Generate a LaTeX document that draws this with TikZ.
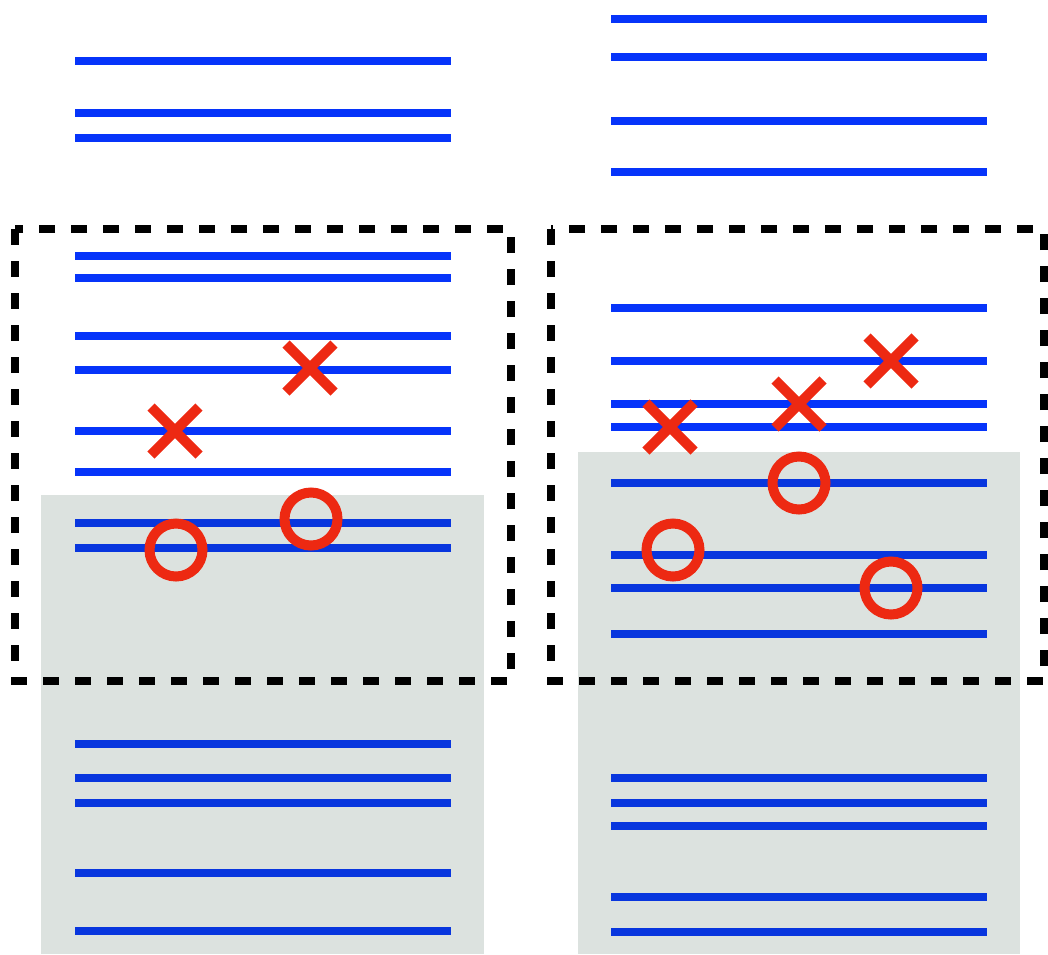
\documentclass[tikz,border=0pt]{standalone}
\definecolor{lineblue}{RGB}{6,52,250}
\definecolor{lineblueg}{RGB}{8,54,222}
\definecolor{mark}{RGB}{237,41,18}
\definecolor{shade}{RGB}{220,226,223}
\tikzset{
  bl/.style={draw=lineblue,line width=8pt},
  blg/.style={draw=lineblueg,line width=8pt},
  region/.style={fill=shade,draw=none},
  box/.style={draw=black,line width=8pt,dash pattern=on 16pt off 16pt},
  xmark/.style={draw=mark,line width=10pt},
  omark/.style={draw=mark,line width=10pt},
}
\begin{document}
\begin{tikzpicture}[x=1pt,y=-1pt]
\useasboundingbox (0,0) rectangle (1048,954);
\clip (0,0) rectangle (1048,954);
% grey regions
\fill[region] (41,495) rectangle (484,954);
\fill[region] (578,452) rectangle (1020,954);
% left lines
\foreach \y in {61,113,138,256,278,336,370,431,472}
  \draw[bl] (75,\y) -- (451,\y);
\foreach \y in {523,548,744,778,803,873,931}
  \draw[blg] (75,\y) -- (451,\y);
% right lines
\foreach \y in {19,57,121,172,308,361,404,427}
  \draw[bl] (611,\y) -- (987,\y);
\foreach \y in {483,555,588,634,778,803,826,897,932}
  \draw[blg] (611,\y) -- (987,\y);
% dashed boxes
\draw[box] (15,229) rectangle (511,681);
\draw[box] (551,229) rectangle (1044,681);
% crosses
\foreach \cx/\cy in {175/431,310/368,670/427,799/404,891/361}{
  \draw[xmark] (\cx-24,\cy-24) -- (\cx+24,\cy+24);
  \draw[xmark] (\cx-24,\cy+24) -- (\cx+24,\cy-24);
}
% circles
\foreach \cx/\cy in {176/550,311/519,799/483,673/550,891/588}
  \draw[omark] (\cx,\cy) circle[radius=26.5];
\end{tikzpicture}
\end{document}
